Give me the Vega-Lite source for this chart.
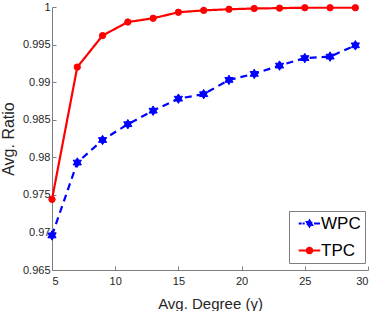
{
  "$schema": "https://vega.github.io/schema/vega-lite/v6.json",
  "width": 316,
  "height": 263,
  "autosize": "none",
  "padding": {"left": 52, "top": 7, "right": 6, "bottom": 41},
  "background": "white",
  "config": {
    "view": {"stroke": null},
    "font": "Liberation Sans",
    "axis": {
      "grid": false,
      "domainColor": "#7f7f7f",
      "tickColor": "#7f7f7f",
      "labelColor": "#262626",
      "titleColor": "#262626",
      "labelFont": "Liberation Sans",
      "titleFont": "Liberation Sans",
      "labelFontSize": 11,
      "titleFontSize": 15,
      "titleFontWeight": "normal",
      "tickSize": -4
    }
  },
  "data": {
    "values": [
      {"x": 5, "ratio": 0.9696, "series": "WPC"},
      {"x": 7, "ratio": 0.9793, "series": "WPC"},
      {"x": 9, "ratio": 0.9823, "series": "WPC"},
      {"x": 11, "ratio": 0.9844, "series": "WPC"},
      {"x": 13, "ratio": 0.9862, "series": "WPC"},
      {"x": 15, "ratio": 0.9878, "series": "WPC"},
      {"x": 17, "ratio": 0.9884, "series": "WPC"},
      {"x": 19, "ratio": 0.9903, "series": "WPC"},
      {"x": 21, "ratio": 0.9911, "series": "WPC"},
      {"x": 23, "ratio": 0.9922, "series": "WPC"},
      {"x": 25, "ratio": 0.9932, "series": "WPC"},
      {"x": 27, "ratio": 0.9934, "series": "WPC"},
      {"x": 29, "ratio": 0.9949, "series": "WPC"},
      {"x": 5, "ratio": 0.9744, "series": "TPC"},
      {"x": 7, "ratio": 0.992, "series": "TPC"},
      {"x": 9, "ratio": 0.9962, "series": "TPC"},
      {"x": 11, "ratio": 0.998, "series": "TPC"},
      {"x": 13, "ratio": 0.9985, "series": "TPC"},
      {"x": 15, "ratio": 0.9993, "series": "TPC"},
      {"x": 17, "ratio": 0.99955, "series": "TPC"},
      {"x": 19, "ratio": 0.9997, "series": "TPC"},
      {"x": 21, "ratio": 0.9998, "series": "TPC"},
      {"x": 23, "ratio": 0.99985, "series": "TPC"},
      {"x": 25, "ratio": 0.9999, "series": "TPC"},
      {"x": 27, "ratio": 0.9999, "series": "TPC"},
      {"x": 29, "ratio": 0.9999, "series": "TPC"}
    ]
  },
  "encoding": {
    "x": {
      "field": "x", "type": "quantitative",
      "scale": {"domain": [5, 30], "nice": false, "zero": false},
      "axis": {"values": [5, 10, 15, 20, 25, 30], "title": "Avg. Degree (γ)", "titlePadding": 10, "labelPadding": 9}
    },
    "y": {
      "field": "ratio", "type": "quantitative",
      "scale": {"domain": [0.965, 1], "nice": false, "zero": false},
      "axis": {
        "values": [0.965, 0.97, 0.975, 0.98, 0.985, 0.99, 0.995, 1],
        "format": "~g", "title": "Avg. Ratio", "titlePadding": 6, "labelPadding": 6, "titleFontSize": 16
      }
    },
    "color": {
      "field": "series", "type": "nominal",
      "scale": {"domain": ["WPC", "TPC"], "range": ["#0000ff", "#ff0000"]},
      "legend": {
        "title": null,
        "orient": "none",
        "legendX": 237,
        "legendY": 204,
        "strokeColor": "#7f7f7f",
        "fillColor": "white",
        "padding": 4,
        "labelFontSize": 17,
        "labelColor": "#000000",
        "labelFont": "Liberation Sans",
        "symbolSize": 36,
        "rowPadding": 9,
        "labelOffset": 3,
        "symbolOffset": 8,
        "encode": {
          "symbols": {
            "update": {
              "shape": {"signal": "datum.value === 'WPC' ? 'M-3.6,0L-2.6,0M-2.3,0L-1.6,0M0,-1.1L0.95,0.55L-0.95,0.55ZM0,1.1L-0.95,-0.55L0.95,-0.55ZM1.5,0L3.5,0' : 'M-3.6,0L3.6,0M-0.95,0A0.95,0.95,0,1,1,0.95,0A0.95,0.95,0,1,1,-0.95,0Z'"},
              "strokeWidth": {"value": 1.8},
              "strokeDash": {"value": []}
            }
          }
        }
      }
    }
  },
  "layer": [
    {
      "mark": {"type": "line", "strokeWidth": 2.2},
      "encoding": {
        "strokeDash": {
          "field": "series", "type": "nominal",
          "scale": {"domain": ["WPC", "TPC"], "range": [[7, 5], [1, 0]]},
          "legend": null
        }
      }
    },
    {
      "transform": [{"filter": "datum.series === 'WPC'"}],
      "mark": {"type": "point", "filled": true, "opacity": 1, "strokeWidth": 1, "stroke": "#0000ff", "shape": "M0,-1L0.866,0.5L-0.866,0.5ZM0,1L-0.866,-0.5L0.866,-0.5Z", "size": 90}
    },
    {
      "transform": [{"filter": "datum.series === 'TPC'"}],
      "mark": {"type": "point", "filled": true, "opacity": 1, "strokeWidth": 1, "stroke": "#ff0000", "shape": "circle", "size": 40}
    }
  ]
}
